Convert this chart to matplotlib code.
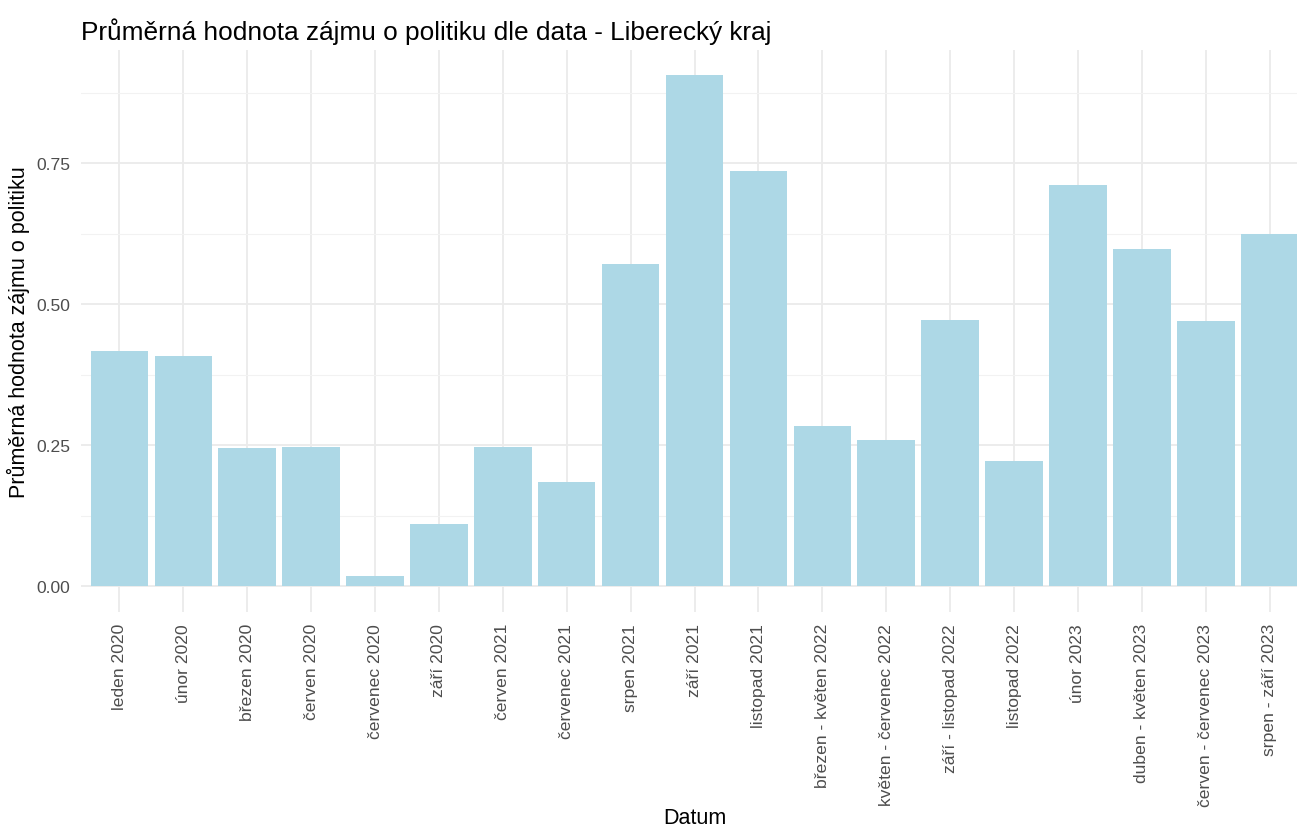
import matplotlib
matplotlib.use('Agg')
import matplotlib.pyplot as plt
import numpy as np

plt.rcParams['font.family'] = ['Liberation Sans', 'DejaVu Sans']

# data
obdobi = [
    'leden 2020', 'únor 2020', 'březen 2020', 'červen 2020', 'červenec 2020',
    'září 2020', 'červen 2021', 'červenec 2021', 'srpen 2021', 'září 2021',
    'listopad 2021', 'březen - květen 2022', 'květen - červenec 2022',
    'září - listopad 2022', 'listopad 2022', 'únor 2023', 'duben - květen 2023',
    'červen - červenec 2023', 'srpen - září 2023',
]
zajem = [
    0.417, 0.408, 0.245, 0.247, 0.019,
    0.110, 0.248, 0.185, 0.571, 0.906,
    0.736, 0.285, 0.260,
    0.473, 0.222, 0.711, 0.598,
    0.471, 0.624,
]

fig = plt.figure(figsize=(12.97, 8.29), dpi=100)
ax = fig.add_axes([0.0625, 0.2606, 0.946, 0.678])

x = np.arange(len(obdobi))
ax.bar(x, zajem, width=0.9, color='#ADD8E6', zorder=2)

ymax = max(zajem)
ax.set_ylim(-0.05 * ymax, ymax * 1.05)
ax.set_xlim(-0.6, len(obdobi) - 0.4)

ax.set_yticks([0, 0.25, 0.5, 0.75])
ax.set_yticklabels(['0.00', '0.25', '0.50', '0.75'])
ax.set_yticks([0.125, 0.375, 0.625, 0.875], minor=True)
ax.set_xticks(x)
ax.set_xticklabels(obdobi, rotation=90, va='top', ha='center')

ax.grid(True, which='major', color='#EBEBEB', linewidth=1.3, zorder=0)
ax.grid(True, which='minor', axis='y', color='#F2F2F2', linewidth=0.8, zorder=0)
ax.set_axisbelow(True)
for s in ax.spines.values():
    s.set_visible(False)
ax.tick_params(which='both', length=0)
ax.tick_params(axis='y', labelsize=12.6, labelcolor='#4D4D4D', pad=8)
ax.tick_params(axis='x', labelsize=12.6, labelcolor='#4D4D4D', pad=8)

ax.set_xlabel('Datum', fontsize=15.5)
ax.xaxis.set_label_coords(0.5, -0.366)
ax.xaxis.label.set_va('center')
ax.set_ylabel('Průměrná hodnota zájmu o politiku', fontsize=15.5, labelpad=4)
ax.set_title('Průměrná hodnota zájmu o politiku dle data - Liberecký kraj',
             fontsize=18.9, loc='left', x=0.0, pad=8)

fig.savefig('out.png', dpi=100)
